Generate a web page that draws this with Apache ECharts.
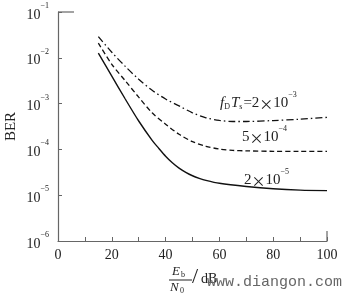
<!DOCTYPE html>
<html><head><meta charset="utf-8">
<script src="https://cdn.jsdelivr.net/npm/echarts@6/dist/echarts.min.js"></script>
<style>html,body{margin:0;padding:0;background:#fff}#c{width:349px;height:300px}</style>
</head><body><div id="c"></div>
<script>
var xTicks = [0, 20, 40, 60, 80, 100];
var snrDash = [15, 20, 25, 30, 35, 40, 45, 50, 55, 60, 65, 70, 80, 90, 100];
var berFd2e3 = [2.9e-2, 1.32e-2, 6.5e-3, 3.4e-3, 1.95e-3, 1.26e-3, 8.9e-4, 6.3e-4, 4.9e-4, 4.3e-4, 4.07e-4, 4.07e-4, 4.27e-4, 4.57e-4, 5.0e-4];
var berFd5e4 = [2.1e-2, 7.2e-3, 3.16e-3, 1.38e-3, 6.3e-4, 3.55e-4, 2.14e-4, 1.48e-4, 1.17e-4, 1.02e-4, 9.5e-5, 9.3e-5, 9.1e-5, 9.1e-5, 9.1e-5];
var snrSolid = [15, 20, 25, 30, 35, 37.5, 40, 42.5, 45, 47.5, 50, 52.5, 55, 60, 70, 80, 90, 100];
var berFd2e5 = [1.26e-2, 3.98e-3, 1.26e-3, 4.17e-4, 1.58e-4, 1.05e-4, 7.1e-5, 5.1e-5, 3.9e-5, 3.16e-5, 2.66e-5, 2.34e-5, 2.11e-5, 1.82e-5, 1.55e-5, 1.38e-5, 1.29e-5, 1.26e-5];

var serif = '"Liberation Serif", "DejaVu Serif", serif';
var axisColor = '#666';
function zip(xs, ys){ return xs.map(function(x,i){return [x, ys[i]];}); }

var chart = echarts.init(document.getElementById('c'));
chart.setOption({
  animation: false,
  grid: {left: 58, right: 22, top: 12, bottom: 59, containLabel: false, outerBoundsMode: 'none'},
  xAxis: {
    type: 'value', min: 0, max: 100, interval: 20,
    axisLine: {lineStyle: {color: axisColor, width: 1.2}},
    axisTick: {inside: true, length: 4, lineStyle: {color: axisColor}},
    minorTick: {show: true, splitNumber: 2, length: 4, lineStyle: {color: axisColor}},
    splitLine: {show: false},
    axisLabel: {color: '#222', fontFamily: serif, fontSize: 14, margin: 7,
      formatter: function(v){ return xTicks.indexOf(v) >= 0 ? String(v) : ''; }}
  },
  yAxis: {
    type: 'log', min: 1e-6, max: 1e-1, logBase: 10,
    axisLine: {show: true, lineStyle: {color: axisColor, width: 1.2}},
    axisTick: {show: true, inside: true, length: 4, lineStyle: {color: axisColor}},
    splitLine: {show: false},
    axisLabel: {
      margin: 9, color: '#222',
      formatter: function(v){
        var e = Math.round(Math.log10(v));
        return '{b|10}{s|\u2212' + Math.abs(e) + '}';
      },
      rich: {
        b: {fontFamily: serif, fontSize: 14, color: '#222', verticalAlign: 'bottom', lineHeight: 16},
        s: {fontFamily: serif, fontSize: 8, color: '#222', verticalAlign: 'top', lineHeight: 20, padding: [0,0,8,0]}
      }
    },
    name: 'BER', nameLocation: 'middle', nameGap: 39, nameRotate: 90, nameMoveOverlap: false,
    nameTextStyle: {fontFamily: serif, fontSize: 15, color: '#222'}
  },
  series: [
    {type: 'line', data: zip(snrDash, berFd2e3), smooth: 0.3, showSymbol: false,
     lineStyle: {color: '#111', width: 1.3, type: [7, 3, 1.5, 3]}},
    {type: 'line', data: zip(snrDash, berFd5e4), smooth: 0.3, showSymbol: false,
     lineStyle: {color: '#111', width: 1.3, type: [5, 3]}},
    {type: 'line', data: zip(snrSolid, berFd2e5), smooth: 0.3, showSymbol: false,
     lineStyle: {color: '#111', width: 1.4, type: 'solid'}}
  ]
});

var pTop = chart.convertToPixel({gridIndex: 0}, [0, 1e-1]);
var pEnd = chart.convertToPixel({gridIndex: 0}, [100, 1e-6]);
var cjk = '"Noto Sans CJK SC", sans-serif';
var richNum = {
  i: {fontFamily: serif, fontStyle: 'italic', fontSize: 15, fill: '#222', verticalAlign: 'bottom', lineHeight: 16},
  n: {fontFamily: serif, fontSize: 15, fill: '#222', verticalAlign: 'bottom', lineHeight: 16},
  x: {fontFamily: cjk, fontSize: 14, fill: '#222', verticalAlign: 'bottom', lineHeight: 16},
  sub: {fontFamily: serif, fontSize: 8, fill: '#222', verticalAlign: 'bottom', lineHeight: 12, padding: [0,1,0,0]},
  sup: {fontFamily: serif, fontSize: 8, fill: '#222', verticalAlign: 'top', lineHeight: 20, padding: [0,0,8,0]}
};
chart.setOption({
  graphic: [
    {type: 'line', shape: {x1: pTop[0], y1: pTop[1], x2: pTop[0] + 16, y2: pTop[1]}, style: {stroke: axisColor, lineWidth: 1.2}},
    {type: 'line', shape: {x1: pEnd[0], y1: pEnd[1], x2: pEnd[0], y2: pEnd[1] - 10}, style: {stroke: axisColor, lineWidth: 1.2}},
    {type: 'text', left: 220, top: 91, style: {
      text: '{i|f}{sub|D}{i|T}{sub|s}{n|=2}{x|\u00d7}{n|10}{sup|\u22123}', rich: richNum}},
    {type: 'text', left: 242, top: 125, style: {
      text: '{n|5}{x|\u00d7}{n|10}{sup|\u22124}', rich: richNum}},
    {type: 'text', left: 244, top: 168, style: {
      text: '{n|2}{x|\u00d7}{n|10}{sup|\u22125}', rich: richNum}},
    {type: 'text', left: 172, top: 265, style: {text: 'E', font: 'italic 13px ' + serif, fill: '#222'}},
    {type: 'text', left: 181, top: 271, style: {text: 'b', font: '8px ' + serif, fill: '#222'}},
    {type: 'line', shape: {x1: 169, y1: 280, x2: 192, y2: 280}, style: {stroke: '#222', lineWidth: 1}},
    {type: 'text', left: 170, top: 281, style: {text: 'N', font: 'italic 13px ' + serif, fill: '#222'}},
    {type: 'text', left: 180, top: 287, style: {text: '0', font: '8px ' + serif, fill: '#222'}},
    {type: 'text', left: 192, top: 266, style: {text: '/', font: '22px ' + serif, fill: '#222'}},
    {type: 'text', left: 201, top: 272, style: {text: 'dB', font: '14px ' + serif, fill: '#222'}},
    {type: 'text', left: 207, top: 275, style: {text: 'www.diangon.com', font: '15px "Liberation Mono", monospace', fill: '#666'}}
  ]
});
</script></body></html>
